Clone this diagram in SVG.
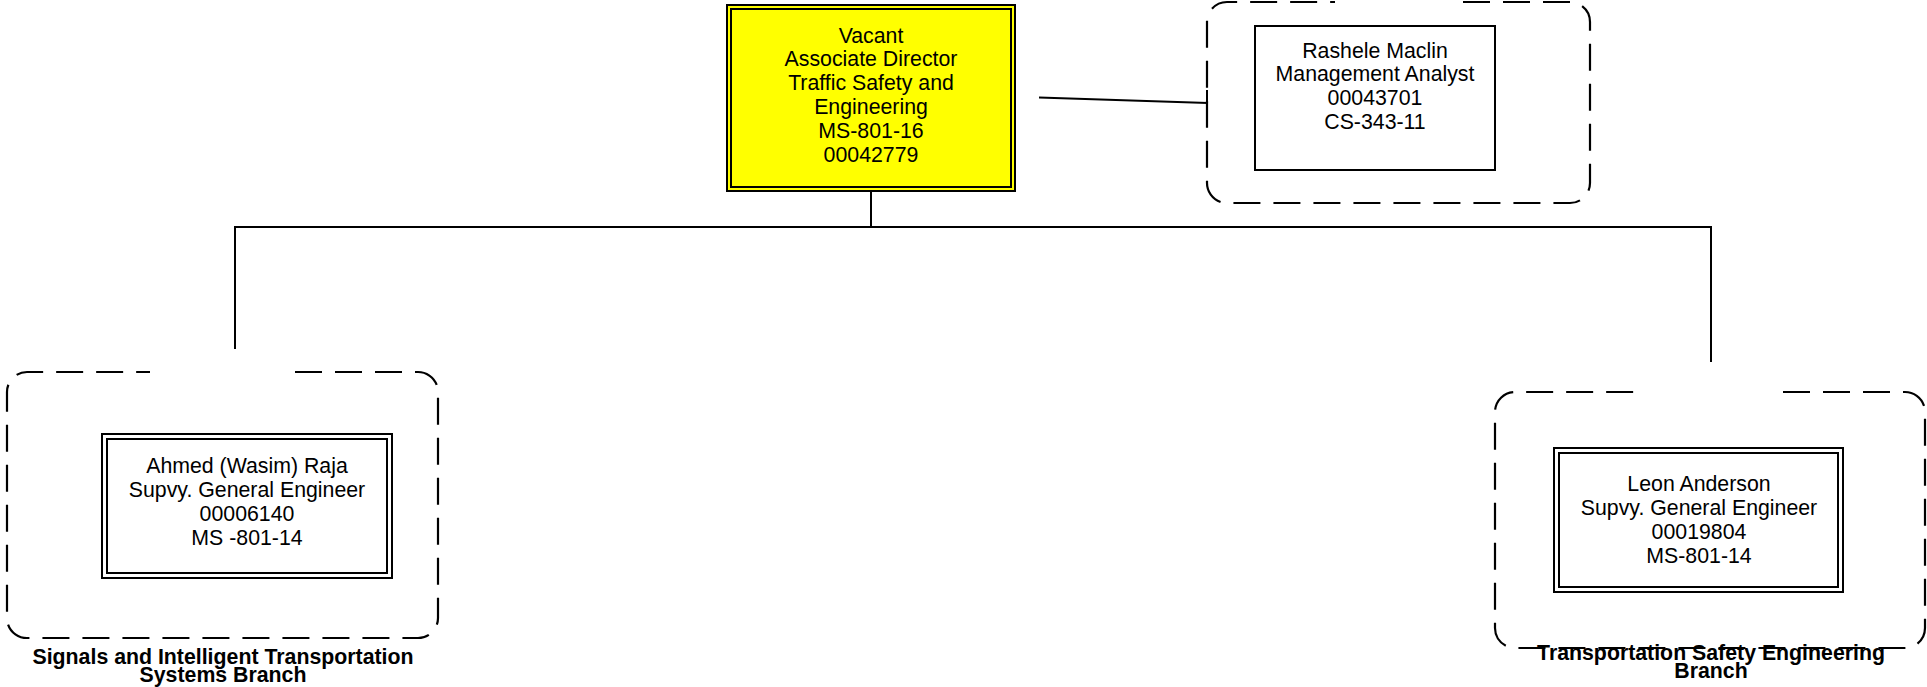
<svg xmlns="http://www.w3.org/2000/svg" width="1927" height="687" viewBox="0 0 1927 687">
<style>
.t{font-family:"Liberation Sans",Arial,sans-serif;font-size:21.3px;fill:#000;text-anchor:middle}
.b{font-family:"Liberation Sans",Arial,sans-serif;font-size:21.3px;font-weight:bold;fill:#000;text-anchor:middle}
.box{fill:#fff;stroke:#000;stroke-width:2}
.ybox{fill:#ffff00;stroke:#000;stroke-width:2}
.grp{fill:none;stroke:#000;stroke-width:2.2;stroke-dasharray:27 13}
.ln{fill:none;stroke:#000;stroke-width:2}
</style>
<rect width="1927" height="687" fill="#fff"/>
<g id="connectors">
<path class="ln" d="M871 191 V227 M235 349 V227 H1711 V362"/>
<path class="ln" d="M1039 97.5 L1208 103"/>
</g>
<g id="group-rashele">
<path class="grp" d="M1463 2 H1570 A20 20 0 0 1 1590 22 V183 A20 20 0 0 1 1570 203 H1227 A20 20 0 0 1 1207 183 V22 A20 20 0 0 1 1227 2 H1335"/>
<path class="ln" d="M1207 90 V116"/>
</g>
<g id="group-signals">
<path class="grp" d="M295 372 H418 A20 20 0 0 1 438 392 V618 A20 20 0 0 1 418 638 H27 A20 20 0 0 1 7 618 V392 A20 20 0 0 1 27 372 H150"/>
<text class="b" x="223" y="664">Signals and Intelligent Transportation</text>
<text class="b" x="223" y="682">Systems Branch</text>
</g>
<g id="group-safety">
<path class="grp" d="M1783 392 H1905 A20 20 0 0 1 1925 412 V628 A20 20 0 0 1 1905 648 H1515 A20 20 0 0 1 1495 628 V412 A20 20 0 0 1 1515 392 H1638"/>
<text class="b" x="1711" y="660">Transportation Safety Engineering</text>
<text class="b" x="1711" y="678">Branch</text>
</g>
<g id="node-director">
<rect class="ybox" x="727" y="5" width="288" height="186"/>
<rect class="ybox" x="731" y="9" width="280" height="178"/>
<text class="t" x="871" y="42.5">Vacant</text>
<text class="t" x="871" y="66.3">Associate Director</text>
<text class="t" x="871" y="90.1">Traffic Safety and</text>
<text class="t" x="871" y="113.9">Engineering</text>
<text class="t" x="871" y="137.7">MS-801-16</text>
<text class="t" x="871" y="161.5">00042779</text>
</g>
<g id="node-rashele">
<rect class="box" x="1255" y="26" width="240" height="144"/>
<text class="t" x="1375" y="57.5">Rashele Maclin</text>
<text class="t" x="1375" y="81.3">Management Analyst</text>
<text class="t" x="1375" y="105.1">00043701</text>
<text class="t" x="1375" y="128.9">CS-343-11</text>
</g>
<g id="node-ahmed">
<rect class="box" x="102" y="434" width="290" height="144"/>
<rect class="box" x="107" y="439" width="280" height="134"/>
<text class="t" x="247" y="473">Ahmed (Wasim) Raja</text>
<text class="t" x="247" y="497">Supvy. General Engineer</text>
<text class="t" x="247" y="521">00006140</text>
<text class="t" x="247" y="545">MS -801-14</text>
</g>
<g id="node-leon">
<rect class="box" x="1554" y="448" width="289" height="144"/>
<rect class="box" x="1559" y="453" width="279" height="134"/>
<text class="t" x="1699" y="491">Leon Anderson</text>
<text class="t" x="1699" y="515">Supvy. General Engineer</text>
<text class="t" x="1699" y="539">00019804</text>
<text class="t" x="1699" y="563">MS-801-14</text>
</g>
</svg>
